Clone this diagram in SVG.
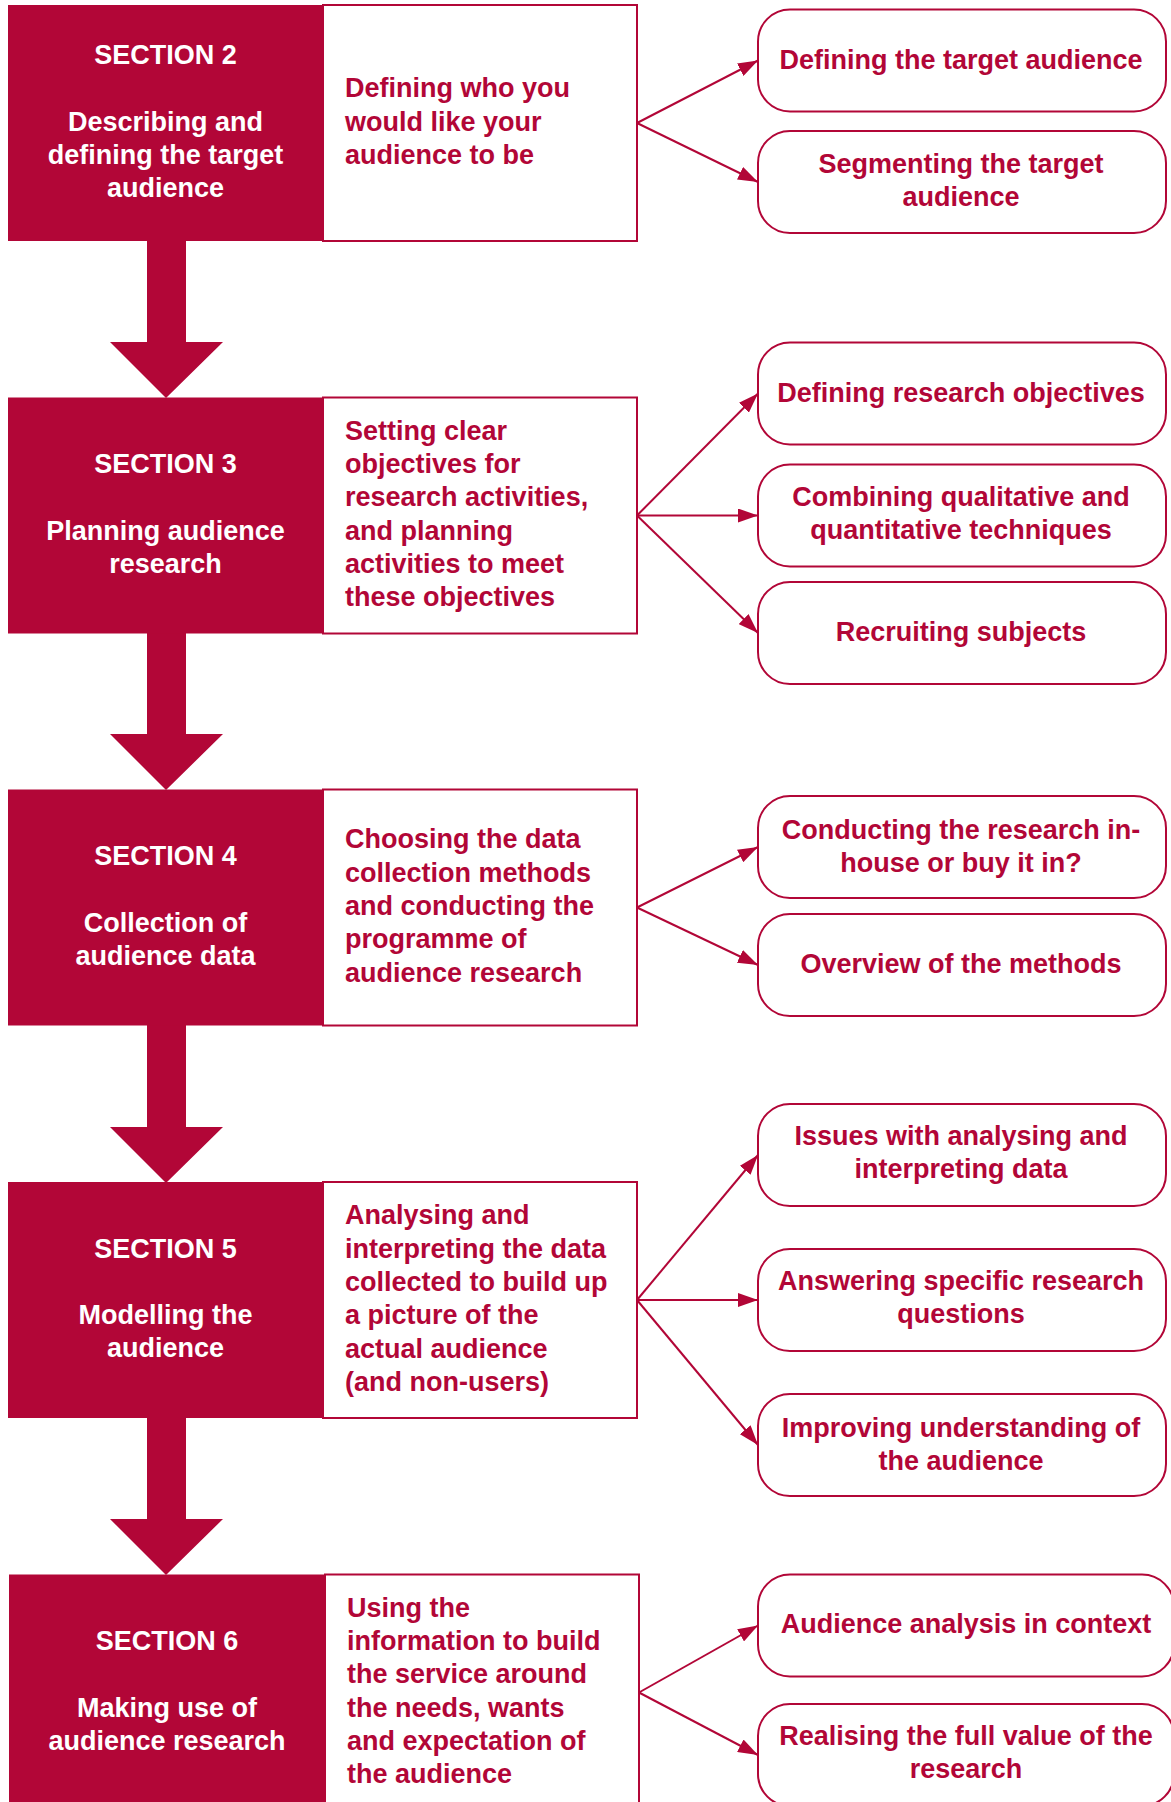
<svg xmlns="http://www.w3.org/2000/svg" width="1171" height="1802" viewBox="0 0 1171 1802">
<defs>
<style>
.dark{fill:#B20637;}
.white{fill:#fff;stroke:#B20637;stroke-width:2;}
.pill{fill:#fff;stroke:#B20637;stroke-width:2;}
.down{fill:#B20637;}
text{font-family:"Liberation Sans",Arial,sans-serif;font-weight:bold;font-size:27px;}
.wt{fill:#fff;text-anchor:middle;}
.rt{fill:#B20637;}
.ct{fill:#B20637;text-anchor:middle;}
.conn line{stroke:#B20637;stroke-width:2;fill:none;marker-end:url(#ah);}
</style>
<marker id="ah" markerUnits="userSpaceOnUse" markerWidth="21" markerHeight="14" refX="20" refY="7" orient="auto">
<path d="M0,0 L20,7 L0,14 z" fill="#B20637"/>
</marker>
</defs>
<rect width="1171" height="1802" fill="#fff"/>

<!-- down arrows -->
<g id="flow-arrows">
<polygon class="down" points="147,240 186,240 186,342 223,342 166,398 110,342 147,342"/>
<polygon class="down" points="147,633 186,633 186,734 223,734 166,790 110,734 147,734"/>
<polygon class="down" points="147,1025 186,1025 186,1127 223,1127 166,1183 110,1127 147,1127"/>
<polygon class="down" points="147,1417 186,1417 186,1519 223,1519 166,1575 110,1519 147,1519"/>
</g>

<!-- Section 2 -->
<g id="section2">
<rect class="white" x="323" y="5" width="314" height="236"/>
<rect class="dark" x="8" y="5" width="315" height="236"/>
<text class="wt" x="165.5" y="63.9">SECTION 2<tspan x="165.5" dy="66.6">Describing and</tspan><tspan x="165.5" dy="33.3">defining the target</tspan><tspan x="165.5" dy="33.3">audience</tspan></text>
<text class="rt" x="345" y="97.2">Defining who you<tspan x="345" dy="33.3">would like your</tspan><tspan x="345" dy="33.3">audience to be</tspan></text>
</g>

<!-- Section 3 -->
<g id="section3">
<rect class="white" x="323" y="397.5" width="314" height="236"/>
<rect class="dark" x="8" y="397.5" width="315" height="236"/>
<text class="wt" x="165.5" y="473">SECTION 3<tspan x="165.5" dy="66.6">Planning audience</tspan><tspan x="165.5" dy="33.3">research</tspan></text>
<text class="rt" x="345" y="439.8">Setting clear<tspan x="345" dy="33.3">objectives for</tspan><tspan x="345" dy="33.3">research activities,</tspan><tspan x="345" dy="33.3">and planning</tspan><tspan x="345" dy="33.3">activities to meet</tspan><tspan x="345" dy="33.3">these objectives</tspan></text>
</g>

<!-- Section 4 -->
<g id="section4">
<rect class="white" x="323" y="789.5" width="314" height="236"/>
<rect class="dark" x="8" y="789.5" width="315" height="236"/>
<text class="wt" x="165.5" y="865">SECTION 4<tspan x="165.5" dy="66.6">Collection of</tspan><tspan x="165.5" dy="33.3">audience data</tspan></text>
<text class="rt" x="345" y="848.4">Choosing the data<tspan x="345" dy="33.3">collection methods</tspan><tspan x="345" dy="33.3">and conducting the</tspan><tspan x="345" dy="33.3">programme of</tspan><tspan x="345" dy="33.3">audience research</tspan></text>
</g>

<!-- Section 5 -->
<g id="section5">
<rect class="white" x="323" y="1182" width="314" height="236"/>
<rect class="dark" x="8" y="1182" width="315" height="236"/>
<text class="wt" x="165.5" y="1257.5">SECTION 5<tspan x="165.5" dy="66.6">Modelling the</tspan><tspan x="165.5" dy="33.3">audience</tspan></text>
<text class="rt" x="345" y="1224.3">Analysing and<tspan x="345" dy="33.3">interpreting the data</tspan><tspan x="345" dy="33.3">collected to build up</tspan><tspan x="345" dy="33.3">a picture of the</tspan><tspan x="345" dy="33.3">actual audience</tspan><tspan x="345" dy="33.3">(and non-users)</tspan></text>
</g>

<!-- Section 6 -->
<g id="section6">
<rect class="white" x="325" y="1574.5" width="314" height="236"/>
<rect class="dark" x="9" y="1574.5" width="316" height="236"/>
<text class="wt" x="167" y="1650">SECTION 6<tspan x="167" dy="66.6">Making use of</tspan><tspan x="167" dy="33.3">audience research</tspan></text>
<text class="rt" x="347" y="1616.8">Using the<tspan x="347" dy="33.3">information to build</tspan><tspan x="347" dy="33.3">the service around</tspan><tspan x="347" dy="33.3">the needs, wants</tspan><tspan x="347" dy="33.3">and expectation of</tspan><tspan x="347" dy="33.3">the audience</tspan></text>
</g>

<!-- Topic boxes -->
<g id="t-defining-target">
<rect class="pill" x="758" y="9.5" width="408" height="102" rx="32"/>
<text class="ct" x="961" y="68.5">Defining the target audience</text>
</g>
<g id="t-segmenting">
<rect class="pill" x="758" y="131" width="408" height="102" rx="32"/>
<text class="ct" x="961" y="172.5">Segmenting the target<tspan x="961" dy="33.3">audience</tspan></text>
</g>
<g id="t-research-objectives">
<rect class="pill" x="758" y="342.5" width="408" height="102" rx="32"/>
<text class="ct" x="961" y="401.5">Defining research objectives</text>
</g>
<g id="t-combining">
<rect class="pill" x="758" y="464.5" width="408" height="102" rx="32"/>
<text class="ct" x="961" y="505.5">Combining qualitative and<tspan x="961" dy="33.3">quantitative techniques</tspan></text>
</g>
<g id="t-recruiting">
<rect class="pill" x="758" y="582" width="408" height="102" rx="32"/>
<text class="ct" x="961" y="641">Recruiting subjects</text>
</g>
<g id="t-conducting">
<rect class="pill" x="758" y="796" width="408" height="102" rx="32"/>
<text class="ct" x="961" y="839">Conducting the research in-<tspan x="961" dy="33.3">house or buy it in?</tspan></text>
</g>
<g id="t-overview">
<rect class="pill" x="758" y="914" width="408" height="102" rx="32"/>
<text class="ct" x="961" y="973">Overview of the methods</text>
</g>
<g id="t-issues">
<rect class="pill" x="758" y="1104" width="408" height="102" rx="32"/>
<text class="ct" x="961" y="1145">Issues with analysing and<tspan x="961" dy="33.3">interpreting data</tspan></text>
</g>
<g id="t-answering">
<rect class="pill" x="758" y="1249" width="408" height="102" rx="32"/>
<text class="ct" x="961" y="1290">Answering specific research<tspan x="961" dy="33.3">questions</tspan></text>
</g>
<g id="t-improving">
<rect class="pill" x="758" y="1394" width="408" height="102" rx="32"/>
<text class="ct" x="961" y="1436.5">Improving understanding of<tspan x="961" dy="33.3">the audience</tspan></text>
</g>
<g id="t-context">
<rect class="pill" x="758" y="1574.5" width="416" height="102" rx="32"/>
<text class="ct" x="966" y="1633">Audience analysis in context</text>
</g>
<g id="t-realising">
<rect class="pill" x="758" y="1704" width="416" height="102" rx="32"/>
<text class="ct" x="966" y="1745">Realising the full value of the<tspan x="966" dy="33.3">research</tspan></text>
</g>

<!-- connectors -->
<g id="connectors" class="conn">
<line x1="637" y1="123" x2="758" y2="60.5"/>
<line x1="637" y1="123" x2="758" y2="182"/>
<line x1="637" y1="515.5" x2="758" y2="393.5"/>
<line x1="637" y1="515.5" x2="758" y2="515.5"/>
<line x1="637" y1="515.5" x2="758" y2="633"/>
<line x1="637" y1="907.5" x2="758" y2="847"/>
<line x1="637" y1="907.5" x2="758" y2="965"/>
<line x1="637" y1="1300" x2="758" y2="1155"/>
<line x1="637" y1="1300" x2="758" y2="1300"/>
<line x1="637" y1="1300" x2="758" y2="1445"/>
<line x1="639" y1="1692.5" x2="758" y2="1625.5"/>
<line x1="639" y1="1692.5" x2="758" y2="1755"/>
</g>
</svg>
